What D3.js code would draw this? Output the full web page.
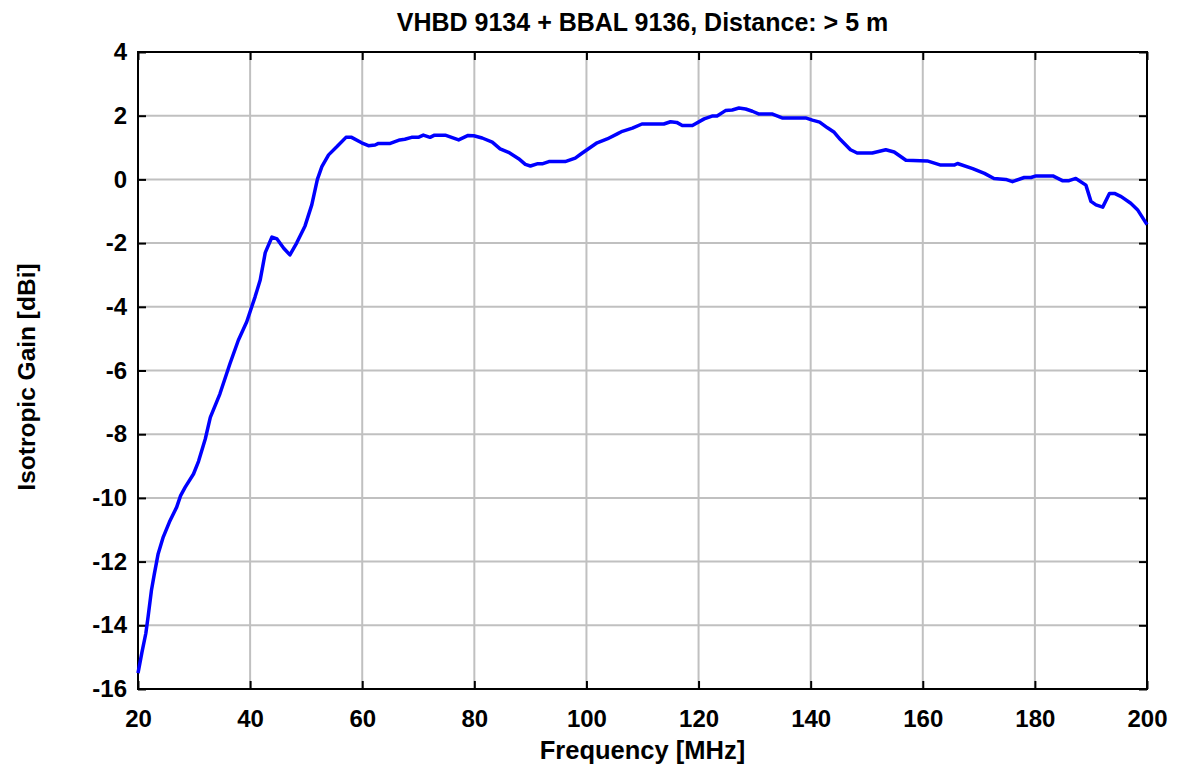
<!DOCTYPE html>
<html>
<head>
<meta charset="utf-8">
<script src="https://cdn.jsdelivr.net/npm/d3@7"></script>
<style>
  body { margin: 0; background: #fff; }
  text { font-family: "Liberation Sans", Arial, sans-serif; font-weight: bold; }
</style>
</head>
<body>
<div id="chart"></div>
<script>
// gain curve
const freq = [20, 20.7, 21.4, 21.8, 22.4, 22.9, 23.6, 24.5, 25.6, 26.9, 27.6, 28.4, 29.9, 30.8, 32.0, 32.9, 34.6, 36.4, 37.9, 39.4, 40.9, 41.8, 42.7, 43.9, 44.8, 46.0, 47.1,
  48.3, 49.8, 51.0, 52.0, 52.8, 54.0, 55.5, 57.1, 58.1, 59.9, 61.1, 62.3, 62.9, 65.0, 66.7, 67.6, 68.8, 70.0, 70.9, 72.1, 72.9, 74.8, 77.2, 78.9, 79.9,
  81.4, 83.2, 84.6, 86.1, 87.9, 89.1, 90.0, 91.2, 92.1, 93.3, 96.2, 98.0, 99.2, 101.9, 103.7, 105.5, 106.4, 108.2, 109.9, 113.8, 115.0, 116.1, 117.1, 118.9,
  121.0, 122.4, 123.3, 124.8, 126.0, 127.2, 128.4, 129.6, 130.8, 133.2, 134.9, 139.1, 140.3, 141.6, 143.0, 144.2, 145.3, 147.1, 148.3, 151.0, 153.4, 154.9,
  157.0, 160.8, 163.2, 165.6, 166.2, 168.9, 171.0, 172.7, 174.8, 176.0, 178.1, 179.3, 180.2, 183.2, 184.9, 186.1, 187.3, 189.1, 190.0, 190.9, 192.1,
  193.3, 194.2, 195.4, 197.1, 198.3, 200];
const gain = [-15.5, -14.85, -14.25, -13.73, -12.9, -12.4, -11.75, -11.23, -10.76, -10.29, -9.93, -9.67, -9.25, -8.85, -8.15, -7.47, -6.74, -5.79, -5.05, -4.47, -3.68, -3.16, -2.3, -1.81, -1.87, -2.16, -2.37,
  -2.0, -1.46, -0.8, 0.0, 0.4, 0.77, 1.03, 1.32, 1.32, 1.15, 1.06, 1.08, 1.13, 1.13, 1.24, 1.26, 1.32, 1.32, 1.39, 1.32, 1.39, 1.39, 1.24, 1.38, 1.37,
  1.3, 1.17, 0.96, 0.85, 0.65, 0.47, 0.42, 0.49, 0.49, 0.56, 0.56, 0.67, 0.82, 1.15, 1.27, 1.43, 1.51, 1.61, 1.74, 1.74, 1.81, 1.79, 1.69, 1.69,
  1.9, 1.99, 1.99, 2.16, 2.18, 2.24, 2.21, 2.14, 2.05, 2.05, 1.93, 1.93, 1.86, 1.8, 1.62, 1.48, 1.25, 0.93, 0.83, 0.83, 0.93, 0.86,
  0.6, 0.58, 0.45, 0.45, 0.5, 0.34, 0.19, 0.03, 0.0, -0.07, 0.06, 0.06, 0.11, 0.11, -0.04, -0.04, 0.03, -0.18, -0.69, -0.8, -0.87,
  -0.44, -0.44, -0.54, -0.75, -0.95, -1.42];

const xTicks = [20, 40, 60, 80, 100, 120, 140, 160, 180, 200];
const yTicks = [4, 2, 0, -2, -4, -6, -8, -10, -12, -14, -16];

const width = 1179, height = 772;
const margin = {top: 52, right: 32, bottom: 83, left: 138};

const svg = d3.select("#chart").append("svg")
  .attr("width", width)
  .attr("height", height);

const x = d3.scaleLinear().domain([20, 200]).range([margin.left, width - margin.right]);
const y = d3.scaleLinear().domain([-16, 4]).range([height - margin.bottom, margin.top]);

const fmt = d => String(d); // plain hyphen minus like the original

// grid
svg.append("g").selectAll("line")
  .data(xTicks.slice(1, -1))
  .join("line")
  .attr("x1", d => x(d)).attr("x2", d => x(d))
  .attr("y1", y(4)).attr("y2", y(-16))
  .attr("stroke", "#c0c0c0").attr("stroke-width", 2);

svg.append("g").selectAll("line")
  .data(yTicks.slice(1, -1))
  .join("line")
  .attr("x1", x(20)).attr("x2", x(200))
  .attr("y1", d => y(d)).attr("y2", d => y(d))
  .attr("stroke", "#c0c0c0").attr("stroke-width", 2);

// axes with inward ticks
const tickLen = 8;
const styleText = g => g.selectAll("text")
  .attr("font-size", 24).attr("fill", "#000")
  .attr("font-family", "Liberation Sans, Arial").attr("font-weight", "bold");

svg.append("g")
  .attr("transform", `translate(0,${y(-16)})`)
  .call(d3.axisBottom(x).tickValues(xTicks).tickSize(-tickLen).tickPadding(21).tickFormat(fmt))
  .call(g => g.select(".domain").remove())
  .call(styleText);

svg.append("g")
  .attr("transform", `translate(0,${y(4)})`)
  .call(d3.axisTop(x).tickValues(xTicks).tickSize(-tickLen).tickFormat(""))
  .call(g => g.select(".domain").remove());

svg.append("g")
  .attr("transform", `translate(${x(20)},0)`)
  .call(d3.axisLeft(y).tickValues(yTicks).tickSize(-tickLen).tickPadding(11).tickFormat(fmt))
  .call(g => g.select(".domain").remove())
  .call(styleText);

svg.append("g")
  .attr("transform", `translate(${x(200)},0)`)
  .call(d3.axisRight(y).tickValues(yTicks).tickSize(-tickLen).tickFormat(""))
  .call(g => g.select(".domain").remove());

svg.selectAll(".tick line").attr("stroke", "#000").attr("stroke-width", 2);

// frame
svg.append("rect")
  .attr("x", x(20)).attr("y", y(4))
  .attr("width", x(200) - x(20)).attr("height", y(-16) - y(4))
  .attr("fill", "none").attr("stroke", "#000").attr("stroke-width", 2);

// curve
const pts = freq.map((f, i) => [f, gain[i]]);
svg.append("path")
  .datum(pts)
  .attr("fill", "none")
  .attr("stroke", "#0000ff")
  .attr("stroke-width", 3.5)
  .attr("stroke-linejoin", "round")
  .attr("d", d3.line().x(d => x(d[0])).y(d => y(d[1])));

// labels
svg.append("text")
  .attr("x", (x(20) + x(200)) / 2).attr("y", 31)
  .attr("text-anchor", "middle").attr("font-size", 25)
  .text("VHBD 9134 + BBAL 9136, Distance: > 5 m");

svg.append("text")
  .attr("x", (x(20) + x(200)) / 2).attr("y", 759)
  .attr("text-anchor", "middle").attr("font-size", 25.5)
  .text("Frequency [MHz]");

svg.append("text")
  .attr("transform", `translate(35,377) rotate(-90)`)
  .attr("text-anchor", "middle").attr("font-size", 24.5)
  .text("Isotropic Gain [dBi]");
</script>
</body>
</html>
